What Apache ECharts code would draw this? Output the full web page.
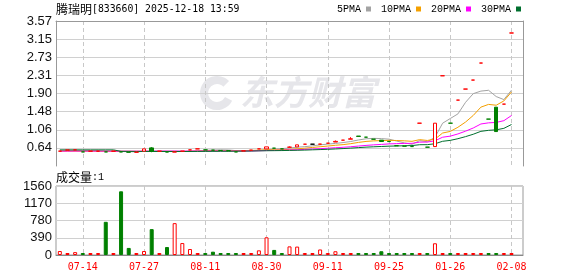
<!DOCTYPE html>
<html><head><meta charset="utf-8">
<script src="https://cdn.jsdelivr.net/npm/echarts@6/dist/echarts.min.js"></script>
<style>html,body{margin:0;padding:0;background:#fff}#c{width:578px;height:276px}</style>
</head><body><div id="c"></div>
<script>
// ---------- data ----------
const dates = ['07-09','07-10','07-11','07-14','07-15','07-16','07-17','07-20','07-21','07-22',
  '07-24','07-27','07-28','07-29','07-30','08-03','08-04','08-05','08-07','08-11',
  '08-12','08-14','08-18','08-20','08-21','08-24','08-26','08-30','08-31','09-01',
  '09-02','09-03','09-04','09-07','09-09','09-11','09-14','09-15','09-16','09-17',
  '09-18','09-21','09-22','09-25','10-09','11-03','11-20','12-08','12-22','01-12',
  '01-14','01-26','01-27','01-28','01-29','02-02','02-03','02-04','02-05','02-08',''];

// [open, close, low, high]
const candles = [
  [.564,.564,.564,.564],[.59,.59,.59,.59],[.594,.594,.594,.594],[.547,.547,.547,.547],[.564,.564,.564,.564],
  [.564,.564,.564,.564],[.547,.547,.547,.547],[.564,.564,.564,.564],[.547,.547,.547,.547],[.54,.54,.54,.54],
  [.54,.54,.54,.54],[.564,.617,.564,.617],[.64,.564,.54,.656],[.564,.564,.564,.564],[.545,.545,.545,.545],
  [.545,.545,.545,.545],[.564,.564,.564,.564],[.594,.594,.594,.594],[.617,.617,.617,.617],[.594,.594,.594,.594],
  [.587,.587,.587,.587],[.58,.58,.58,.58],[.575,.575,.575,.575],[.547,.547,.547,.547],[.57,.57,.57,.57],
  [.587,.587,.587,.587],[.617,.617,.617,.617],[.617,.663,.617,.663],[.633,.633,.633,.633],[.617,.617,.617,.617],
  [.656,.656,.656,.672],[.663,.71,.663,.71],[.725,.725,.725,.725],[.725,.725,.725,.725],[.725,.728,.725,.728],
  [.748,.748,.748,.748],[.775,.79,.775,.81],[.818,.818,.818,.818],[.84,.85,.84,.887],[.912,.905,.905,.912],
  [.887,.887,.887,.887],[.84,.84,.84,.84],[.818,.787,.787,.818],[.79,.785,.785,.79],[.69,.69,.69,.69],
  [.68,.68,.68,.68],[.67,.67,.67,.67],[1.21,1.21,1.21,1.21],[.656,.656,.656,.656],[.67,1.21,.67,1.21],
  [2.305,2.305,2.305,2.305],[1.21,1.21,1.21,1.21],[1.743,1.743,1.743,1.743],[1.998,1.998,1.998,1.998],[2.206,2.206,2.206,2.206],
  [2.599,2.599,2.599,2.599],[1.304,1.304,1.304,1.304],[1.58,1.017,1.017,1.58],[1.65,1.65,1.65,1.65],[3.293,3.293,3.293,3.293]
];
const flatIndex = 33; // drawn black (unchanged)

const volumes = [90,8,65,20,6,5,750,8,1440,160,6,90,585,8,180,720,270,135,10,30,
  75,10,12,10,8,45,105,400,115,12,195,190,8,6,125,6,85,5,6,5,
  5,6,85,6,8,5,5,6,6,265,5,5,6,5,5,4,5,6,3,1];

const ma5 = [.570,.575,.578,.574,.572,.572,.563,.557,.557,.552,.548,.562,.562,.565,.566,.567,.556,.562,.573,.583,
  .591,.594,.591,.577,.572,.572,.579,.597,.614,.623,.637,.656,.668,.687,.709,.727,.743,.762,.787,.822,
  .850,.860,.854,.841,.798,.756,.722,.807,.781,.885,1.210,1.318,1.425,1.693,1.892,1.951,1.970,1.825,1.755,1.973];
const ma10 = [.564,.564,.565,.563,.563,.563,.562,.562,.562,.562,.560,.562,.559,.561,.559,.557,.559,.562,.569,.574,
  .579,.575,.577,.575,.577,.582,.587,.594,.595,.598,.605,.618,.633,.650,.666,.682,.700,.715,.737,.766,
  .789,.802,.808,.814,.810,.803,.791,.830,.811,.842,.983,1.020,1.116,1.237,1.389,1.581,1.644,1.625,1.724,1.933];
const ma20 = [.565,.565,.566,.566,.566,.565,.565,.565,.564,.564,.564,.565,.565,.565,.565,.565,.566,.567,.567,.568,
  .569,.569,.568,.568,.568,.569,.573,.578,.582,.586,.592,.596,.605,.613,.622,.632,.643,.654,.666,.682,
  .697,.710,.720,.732,.738,.743,.745,.773,.774,.804,.886,.911,.962,1.026,1.099,1.192,1.218,1.228,1.268,1.387];
const ma30 = [.594,.594,.594,.594,.594,.594,.594,.594,.560,.559,.558,.558,.557,.557,.556,.556,.556,.557,.558,.559,
  .560,.561,.562,.563,.565,.568,.571,.574,.576,.578,.581,.585,.589,.595,.601,.607,.615,.624,.634,.646,
  .657,.665,.672,.680,.684,.689,.693,.713,.714,.735,.792,.813,.852,.900,.955,1.022,1.045,1.057,1.091,1.180];

const priceTop = 3.57, priceBase = 0.64, priceSteps = 7;
const volTop = 1560, volStep = 390;
const maNames = ['5PMA','10PMA','20PMA','30PMA'];
const maColors = ['#a3a3a3','#f4a000','#ff00ff','#006f2e'];

// ---------- chart ----------
const UP = '#ff0000', DOWN = '#008000';
const pInt = (priceTop - priceBase) / priceSteps;
const pMin = priceBase - pInt;

function sign(i){
  const [o,c] = candles[i];
  if (o > c) return -1;
  if (o < c) return 1;
  return i > 0 ? (candles[i-1][1] <= c ? 1 : -1) : 1;
}
const candleData = candles.map((d,i)=> i===flatIndex
  ? {value:d, itemStyle:{color:'#000',borderColor:'#000',borderColorDoji:'#000'}}
  : d);
const volData = volumes.map((v,i)=> sign(i) > 0
  ? {value:v, itemStyle:{color:'#fff', borderColor:UP, borderWidth:1}}
  : {value:v, itemStyle:{color:DOWN, borderColor:DOWN, borderWidth:1}});

const labelIdx = (i)=> i % 8 === 3;
const dashed = {show:true, interval:labelIdx, alignWithLabel:true, lineStyle:{color:'#c8c8c8', type:[4,3], width:1}};

const chart = echarts.init(document.getElementById('c'), null, {renderer:'canvas'});
chart.setOption({
  animation:false,
  backgroundColor:'#fff',
  title:[
    {text:'{a|腾瑞明}{b|[833660] 2025-12-18 13:59}', left:56, top:2, padding:0,
     textStyle:{fontWeight:'normal', rich:{
       a:{fontFamily:'Noto Sans CJK SC', fontSize:12, color:'#000', lineHeight:14},
       b:{fontFamily:'DejaVu Sans Mono', fontSize:9.8, color:'#000', lineHeight:14}}}},
    {text:'{a|成交量}{b|:' + volumes[volumes.length-1] + '}', left:56, top:170, padding:0,
     textStyle:{fontWeight:'normal', rich:{
       a:{fontFamily:'Noto Sans CJK SC', fontSize:12, color:'#000', lineHeight:14},
       b:{fontFamily:'Liberation Mono', fontSize:10, color:'#000', lineHeight:14}}}}
  ],
  legend:{left:337, top:4, padding:0, align:'right', icon:'rect', itemWidth:5, itemHeight:5, itemGap:10,
    selectedMode:false, data:maNames,
    textStyle:{fontFamily:'Liberation Mono', fontSize:10, color:'#000', padding:[0,0,0,0]}},
  graphic:[
    {type:'arc', silent:true, z:0, shape:{cx:217, cy:93, r:13, startAngle:Math.PI*0.15, endAngle:Math.PI*1.75},
     style:{stroke:'#e6e6ea', lineWidth:8, fill:null}},
    {type:'text', silent:true, z:0, left:240, top:75,
     style:{text:'东方财富', font:'italic bold 34px "Noto Sans CJK SC"', fill:'#e6e6ea'}}
  ],
  grid:[
    {left:56, top:21, width:467, height:145},
    {left:56, top:186, width:467, height:69, show:true, borderColor:'#999', borderWidth:1}
  ],
  xAxis:[
    {type:'category', gridIndex:0, data:dates, boundaryGap:true,
     axisLine:{show:false}, axisTick:{show:false}, axisLabel:{show:false}, splitLine:dashed},
    {type:'category', gridIndex:1, data:dates, boundaryGap:true,
     axisLine:{show:true, lineStyle:{color:'#888'}}, axisTick:{show:false},
     axisLabel:{interval:labelIdx, color:'#ff0000', fontFamily:'DejaVu Sans Mono', fontSize:10, margin:7},
     splitLine:dashed},
    {type:'category', gridIndex:0, position:'top', data:dates, boundaryGap:true,
     axisLine:{show:true, lineStyle:{color:'#999'}}, axisTick:{show:false}, axisLabel:{show:false}, splitLine:{show:false}}
  ],
  yAxis:[
    {type:'value', gridIndex:0, min:pMin, max:priceTop, interval:pInt,
     axisLine:{show:true, lineStyle:{color:'#999'}}, axisTick:{show:false},
     axisLabel:{showMinLabel:false, formatter:(v)=>v.toFixed(2), fontFamily:'Liberation Sans', fontSize:13, color:'#111', margin:4},
     splitLine:{show:true, showMinLine:false, lineStyle:{color:'#d0d0d0'}}},
    {type:'value', gridIndex:0, position:'right', min:pMin, max:priceTop,
     axisLine:{show:true, lineStyle:{color:'#999'}}, axisTick:{show:false}, axisLabel:{show:false}, splitLine:{show:false}},
    {type:'value', gridIndex:1, min:0, max:volTop, interval:volStep,
     axisLine:{show:false}, axisTick:{show:false},
     axisLabel:{formatter:(v)=>String(Math.round(v)), fontFamily:'Liberation Sans', fontSize:13, color:'#111', margin:4},
     splitLine:{show:true, lineStyle:{color:'#d0d0d0'}}}
  ],
  series:[
    ...[ma5, ma10, ma20, ma30].map((d,k)=>({
      name:maNames[k], type:'line', xAxisIndex:0, yAxisIndex:0, data:d, symbol:'none', showSymbol:false,
      lineStyle:{color:maColors[k], width:1}, itemStyle:{color:maColors[k]}, z:3, silent:true})),
    {name:'K', type:'candlestick', xAxisIndex:0, yAxisIndex:0, barWidth:4, data:candleData, z:5,
     itemStyle:{color:'#fff', color0:DOWN, borderColor:UP, borderColor0:DOWN, borderWidth:1}},
    {name:'VOL', type:'bar', xAxisIndex:1, yAxisIndex:2, barWidth:4, barMinHeight:2, data:volData}
  ]
});
</script>
</body></html>
